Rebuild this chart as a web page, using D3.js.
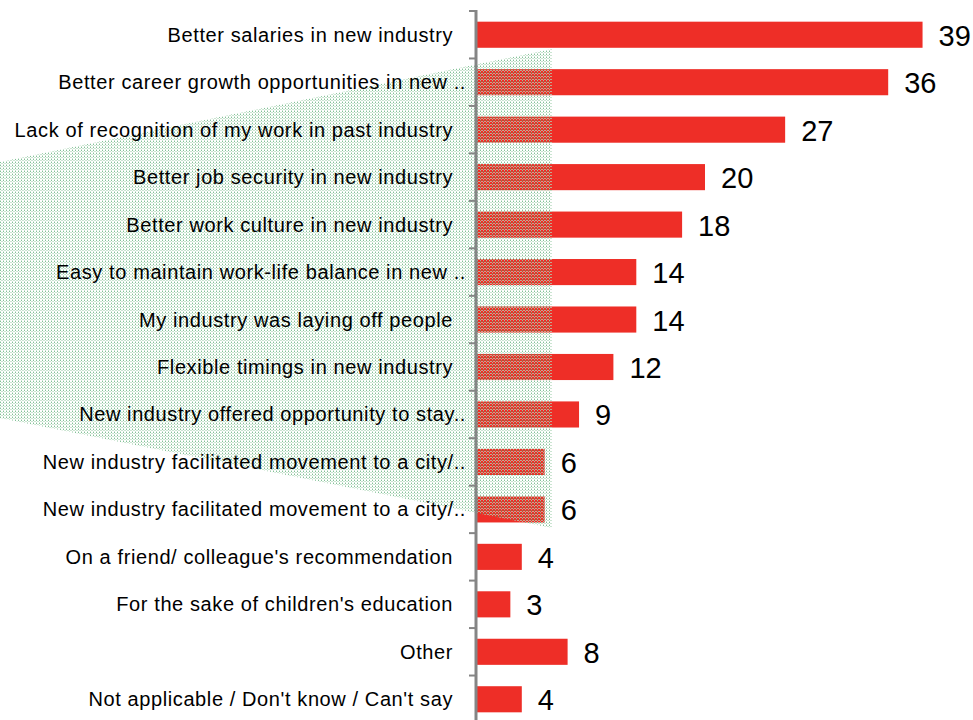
<!DOCTYPE html>
<html>
<head>
<meta charset="utf-8">
<script src="https://cdn.jsdelivr.net/npm/d3@7"></script>
<style>
  html, body { margin: 0; padding: 0; background: #fff; }
  svg { display: block; }
  text { font-family: "Liberation Sans", Arial, sans-serif; }
</style>
</head>
<body>
<svg id="chart" width="973" height="720"></svg>
<script>
// Reasons for switching industry (% of respondents)
const reasons = [
  "Better salaries in new industry",
  "Better career growth opportunities in new ..",
  "Lack of recognition of my work in past industry",
  "Better job security in new industry",
  "Better work culture in new industry",
  "Easy to maintain work-life balance in new ..",
  "My industry was laying off people",
  "Flexible timings in new industry",
  "New industry offered opportunity to stay..",
  "New industry facilitated movement to a city/..",
  "New industry facilitated movement to a city/..",
  "On a friend/ colleague's recommendation",
  "For the sake of children's education",
  "Other",
  "Not applicable / Don't know / Can't say"
];
const percents = [39, 36, 27, 20, 18, 14, 14, 12, 9, 6, 6, 4, 3, 8, 4];

const svg = d3.select("#chart");
const axisX = 476;

const x = d3.scaleLinear().domain([0, 40]).range([axisX, axisX + 458]);
const y = d3.scaleBand()
  .domain(d3.range(reasons.length))
  .range([11, 723])
  .paddingInner(0.45)
  .paddingOuter(0.225);

// Bars
svg.append("g").selectAll("rect")
  .data(percents)
  .join("rect")
  .attr("x", x(0))
  .attr("y", (d, i) => y(i))
  .attr("width", d => x(d) - x(0))
  .attr("height", y.bandwidth())
  .attr("fill", "#ee2e27");

// Dotted green beam across the left half of the chart
const defs = svg.append("defs");
const pat = defs.append("pattern")
  .attr("id", "dots")
  .attr("patternUnits", "userSpaceOnUse")
  .attr("width", 3).attr("height", 3);
pat.append("rect").attr("x", 0).attr("y", 0).attr("width", 1).attr("height", 1).attr("fill", "#4ca66a");
pat.append("rect").attr("x", 1).attr("y", 1).attr("width", 2).attr("height", 1).attr("fill", "#b4d9bd");
pat.append("rect").attr("x", 0).attr("y", 2).attr("width", 1).attr("height", 1).attr("fill", "#b4d9bd");

const beam = [[-10, 164], [552, 49], [552, 528], [-10, 416]];
svg.append("path")
  .attr("d", d3.line()(beam) + "Z")
  .attr("fill", "url(#dots)")
  .attr("opacity", 0.7);

// Category axis with tick marks between bands
const axis = svg.append("g").attr("stroke", "#858585");
axis.append("line")
  .attr("x1", axisX).attr("x2", axisX)
  .attr("y1", 10).attr("y2", 725)
  .attr("stroke-width", 3);
const step = y.step();
const start = y.range()[0];
axis.selectAll("line.tick")
  .data(d3.range(reasons.length))
  .join("line")
  .attr("class", "tick")
  .attr("x1", axisX - 7).attr("x2", axisX)
  .attr("y1", i => start + i * step)
  .attr("y2", i => start + i * step)
  .attr("stroke-width", 2);

// Category labels
svg.append("g").selectAll("text")
  .data(reasons)
  .join("text")
  .attr("x", d => d.endsWith("..") ? 466 : 453)
  .attr("y", (d, i) => y(i) + y.bandwidth() / 2 + 7)
  .attr("text-anchor", "end")
  .attr("font-size", 20)
  .attr("letter-spacing", "0.6px")
  .attr("fill", "#000")
  .text(d => d);

// Value labels
svg.append("g").selectAll("text")
  .data(percents)
  .join("text")
  .attr("x", d => x(d) + 16)
  .attr("y", (d, i) => y(i) + y.bandwidth() / 2 + 11)
  .attr("font-size", 29)
  .attr("fill", "#000")
  .text(d => d);
</script>
</body>
</html>
